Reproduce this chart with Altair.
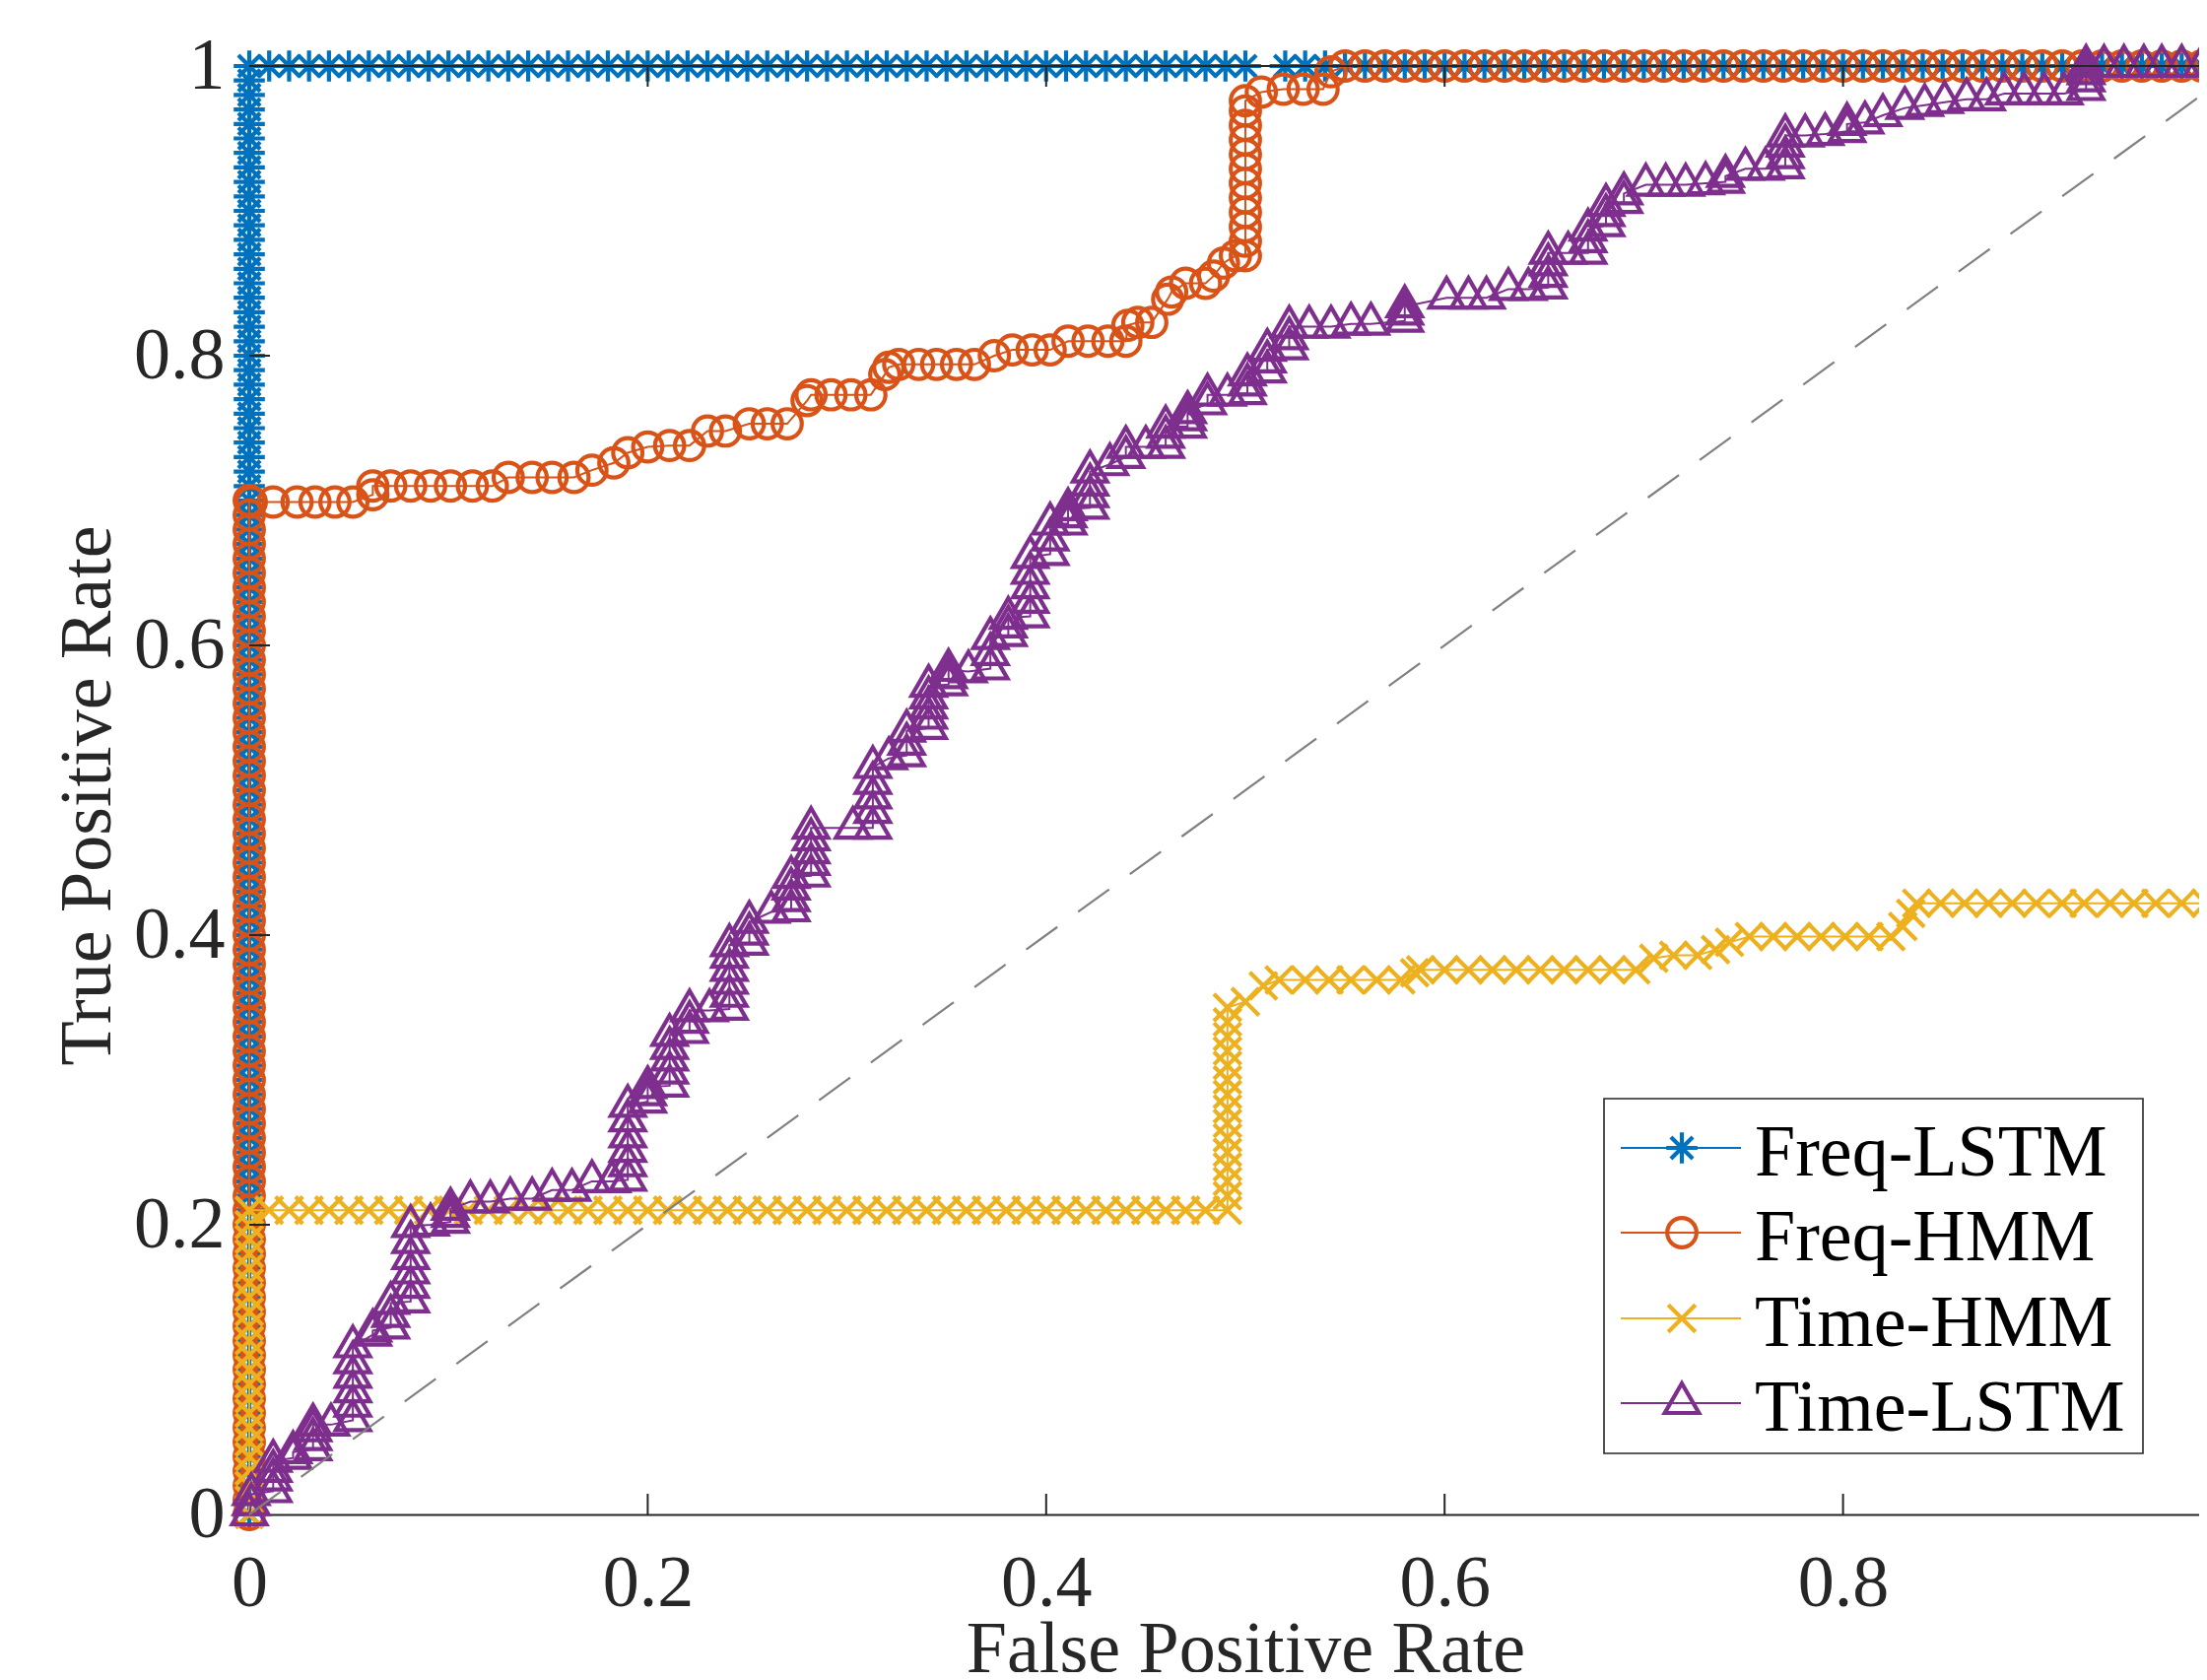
import altair as alt
import pandas as pd

# ---------------- data ----------------
SERIES = ["Freq-LSTM", "Freq-HMM", "Time-HMM", "Time-LSTM"]
COLORS = ["#0072BD", "#D95319", "#EDB120", "#7E2F8E"]

# Freq-LSTM: points at FPR = 0, then points at TPR = 1
freq_lstm_col_tpr = [
    0.00, 0.01, 0.02, 0.03, 0.04, 0.05, 0.06, 0.07, 0.08, 0.09,
    0.10, 0.11, 0.12, 0.13, 0.14, 0.15, 0.16, 0.17, 0.18, 0.19,
    0.20, 0.21, 0.22, 0.23, 0.24, 0.25, 0.26, 0.27, 0.28, 0.29,
    0.30, 0.31, 0.32, 0.33, 0.34, 0.35, 0.36, 0.37, 0.38, 0.39,
    0.40, 0.41, 0.42, 0.43, 0.44, 0.45, 0.46, 0.47, 0.48, 0.49,
    0.50, 0.51, 0.52, 0.53, 0.54, 0.55, 0.56, 0.57, 0.58, 0.59,
    0.60, 0.61, 0.62, 0.63, 0.64, 0.65, 0.66, 0.67, 0.68, 0.69,
    0.70, 0.71, 0.72, 0.73, 0.74, 0.75, 0.76, 0.77, 0.78, 0.79,
    0.80, 0.81, 0.82, 0.83, 0.84, 0.85, 0.86, 0.87, 0.88, 0.89,
    0.90, 0.91, 0.92, 0.93, 0.94, 0.95, 0.96, 0.97, 0.98, 0.99, 1.00]
freq_lstm_top_fpr = [
    0.01, 0.02, 0.03, 0.04, 0.05, 0.06, 0.07, 0.08, 0.09, 0.10,
    0.11, 0.12, 0.13, 0.14, 0.15, 0.16, 0.17, 0.18, 0.19, 0.20,
    0.21, 0.22, 0.23, 0.24, 0.25, 0.26, 0.27, 0.28, 0.29, 0.30,
    0.31, 0.32, 0.33, 0.34, 0.35, 0.36, 0.37, 0.38, 0.39, 0.40,
    0.41, 0.42, 0.43, 0.44, 0.45, 0.46, 0.47, 0.48, 0.49, 0.50,
    0.52, 0.53, 0.54, 0.55, 0.56, 0.57, 0.58, 0.59, 0.60,
    0.61, 0.62, 0.63, 0.64, 0.65, 0.66, 0.67, 0.68, 0.69, 0.70,
    0.71, 0.72, 0.73, 0.74, 0.75, 0.76, 0.77, 0.78, 0.79, 0.80,
    0.81, 0.82, 0.83, 0.84, 0.85, 0.86, 0.87, 0.88, 0.89, 0.90,
    0.91, 0.92, 0.93, 0.94, 0.95, 0.96, 0.97, 0.98, 0.99, 1.00]

# Freq-HMM
freq_hmm_col_tpr = [
    0.00, 0.01, 0.02, 0.03, 0.04, 0.05, 0.06, 0.07, 0.08, 0.09,
    0.10, 0.11, 0.12, 0.13, 0.14, 0.15, 0.16, 0.17, 0.18, 0.19,
    0.20, 0.21, 0.22, 0.23, 0.24, 0.25, 0.26, 0.27, 0.28, 0.29,
    0.30, 0.31, 0.32, 0.33, 0.34, 0.35, 0.36, 0.37, 0.38, 0.39,
    0.40, 0.41, 0.42, 0.43, 0.44, 0.45, 0.46, 0.47, 0.48, 0.49,
    0.50, 0.51, 0.52, 0.53, 0.54, 0.55, 0.56, 0.57, 0.58, 0.59,
    0.60, 0.61, 0.62, 0.63, 0.64, 0.65, 0.66, 0.67, 0.68, 0.69]
freq_hmm_mid = [
    (0.000, 0.700), (0.001, 0.699), (0.012, 0.699), (0.024, 0.699), (0.033, 0.699),
    (0.043, 0.699), (0.052, 0.699), (0.062, 0.704), (0.062, 0.710), (0.071, 0.710),
    (0.081, 0.710), (0.091, 0.710), (0.101, 0.710), (0.112, 0.710), (0.122, 0.710),
    (0.130, 0.716), (0.142, 0.716), (0.152, 0.716), (0.163, 0.716), (0.172, 0.721),
    (0.183, 0.726), (0.190, 0.733), (0.200, 0.737), (0.211, 0.738), (0.221, 0.738),
    (0.230, 0.748), (0.239, 0.748), (0.251, 0.753), (0.260, 0.753), (0.270, 0.753),
    (0.280, 0.769), (0.282, 0.773), (0.292, 0.773), (0.302, 0.773), (0.312, 0.773),
    (0.319, 0.787), (0.321, 0.792), (0.326, 0.794), (0.336, 0.794), (0.345, 0.794),
    (0.355, 0.794), (0.364, 0.794), (0.374, 0.800), (0.383, 0.804), (0.393, 0.804),
    (0.402, 0.804), (0.411, 0.810), (0.421, 0.810), (0.431, 0.810), (0.440, 0.810),
    (0.441, 0.821), (0.446, 0.823), (0.453, 0.823), (0.461, 0.839), (0.463, 0.844),
    (0.470, 0.850), (0.480, 0.850), (0.484, 0.855), (0.489, 0.864), (0.495, 0.869),
    (0.500, 0.869), (0.500, 0.879), (0.500, 0.889), (0.500, 0.899), (0.500, 0.909),
    (0.500, 0.919), (0.500, 0.929), (0.500, 0.939), (0.500, 0.949), (0.500, 0.959),
    (0.500, 0.969), (0.500, 0.976), (0.508, 0.982), (0.519, 0.984), (0.529, 0.984),
    (0.539, 0.984), (0.543, 0.996)]
freq_hmm_top_fpr = [
    0.55, 0.56, 0.57, 0.58, 0.59, 0.60,
    0.61, 0.62, 0.63, 0.64, 0.65, 0.66, 0.67, 0.68, 0.69, 0.70,
    0.71, 0.72, 0.73, 0.74, 0.75, 0.76, 0.77, 0.78, 0.79, 0.80,
    0.81, 0.82, 0.83, 0.84, 0.85, 0.86, 0.87, 0.88, 0.89, 0.90,
    0.91, 0.92, 0.93, 0.94, 0.95, 0.96, 0.97, 0.98, 0.99, 1.00]

# Time-HMM
time_hmm_col_tpr = [
    0.00, 0.01, 0.02, 0.03, 0.04, 0.05, 0.06, 0.07, 0.08, 0.09,
    0.10, 0.11, 0.12, 0.13, 0.14, 0.15, 0.16, 0.17, 0.18, 0.19,
    0.20, 0.21]
time_hmm_flat_tpr = 0.21
time_hmm_flat_fpr = [
    0.01, 0.02, 0.03, 0.04, 0.05, 0.06, 0.07, 0.08, 0.09, 0.10,
    0.11, 0.12, 0.13, 0.14, 0.15, 0.16, 0.17, 0.18, 0.19, 0.20,
    0.21, 0.22, 0.23, 0.24, 0.25, 0.26, 0.27, 0.28, 0.29, 0.30,
    0.31, 0.32, 0.33, 0.34, 0.35, 0.36, 0.37, 0.38, 0.39, 0.40,
    0.41, 0.42, 0.43, 0.44, 0.45, 0.46, 0.47, 0.48]
time_hmm_mid = [
    (0.491, 0.21), (0.491, 0.22), (0.491, 0.23), (0.491, 0.24), (0.491, 0.25),
    (0.491, 0.26), (0.491, 0.27), (0.491, 0.28), (0.491, 0.29), (0.491, 0.30),
    (0.491, 0.31), (0.491, 0.32), (0.491, 0.33), (0.491, 0.34), (0.491, 0.35),
    (0.500, 0.354), (0.509, 0.365), (0.517, 0.369), (0.530, 0.369), (0.542, 0.369),
    (0.553, 0.369), (0.566, 0.369), (0.578, 0.369), (0.585, 0.374), (0.588, 0.376),
    (0.600, 0.376), (0.612, 0.376), (0.624, 0.376), (0.636, 0.376), (0.648, 0.376),
    (0.660, 0.376), (0.672, 0.376), (0.684, 0.376), (0.696, 0.376), (0.705, 0.384),
    (0.715, 0.386), (0.727, 0.386), (0.736, 0.390), (0.743, 0.395), (0.753, 0.399),
    (0.765, 0.399), (0.777, 0.399), (0.789, 0.399), (0.801, 0.399), (0.813, 0.399),
    (0.824, 0.399), (0.830, 0.406), (0.834, 0.415), (0.837, 0.422), (0.849, 0.422),
    (0.861, 0.422), (0.873, 0.422), (0.885, 0.422), (0.897, 0.422), (0.910, 0.422),
    (0.921, 0.422), (0.934, 0.422), (0.946, 0.422), (0.957, 0.422), (0.970, 0.422),
    (0.982, 0.422), (0.994, 0.422), (1.000, 0.422)]

# Time-LSTM
time_lstm = [
    (0.000, 0.000), (0.001, 0.007), (0.001, 0.014),
    (0.012, 0.016), (0.012, 0.024), (0.012, 0.030), (0.012, 0.037),
    (0.022, 0.039), (0.022, 0.043),
    (0.032, 0.045), (0.032, 0.052), (0.032, 0.058), (0.032, 0.062),
    (0.041, 0.062),
    (0.052, 0.065), (0.052, 0.075), (0.052, 0.085), (0.052, 0.095), (0.052, 0.105), (0.052, 0.116),
    (0.062, 0.124), (0.062, 0.127),
    (0.071, 0.129), (0.071, 0.137), (0.071, 0.146),
    (0.081, 0.147), (0.081, 0.157), (0.081, 0.167), (0.081, 0.177), (0.081, 0.188), (0.081, 0.199),
    (0.091, 0.200),
    (0.101, 0.202), (0.101, 0.206), (0.101, 0.211),
    (0.111, 0.216), (0.121, 0.216), (0.131, 0.218), (0.142, 0.218), (0.152, 0.224),
    (0.162, 0.224), (0.172, 0.230), (0.182, 0.230),
    (0.190, 0.231), (0.190, 0.241), (0.190, 0.251), (0.190, 0.261), (0.190, 0.272), (0.190, 0.282),
    (0.200, 0.285), (0.200, 0.290), (0.200, 0.295),
    (0.211, 0.296), (0.211, 0.305), (0.211, 0.314), (0.211, 0.322), (0.211, 0.331),
    (0.221, 0.333), (0.221, 0.340), (0.221, 0.348),
    (0.231, 0.348),
    (0.241, 0.349), (0.241, 0.358), (0.241, 0.367), (0.241, 0.376), (0.241, 0.385), (0.241, 0.393),
    (0.251, 0.394), (0.251, 0.401), (0.251, 0.409),
    (0.262, 0.416),
    (0.272, 0.417), (0.272, 0.424), (0.272, 0.432), (0.272, 0.440),
    (0.282, 0.441), (0.282, 0.449), (0.282, 0.457), (0.282, 0.466), (0.282, 0.474),
    (0.303, 0.474),
    (0.313, 0.474), (0.313, 0.485), (0.313, 0.495), (0.313, 0.505), (0.313, 0.516),
    (0.321, 0.522),
    (0.330, 0.524), (0.330, 0.532), (0.330, 0.541),
    (0.341, 0.543), (0.341, 0.550), (0.341, 0.557), (0.341, 0.564), (0.341, 0.572),
    (0.351, 0.573), (0.351, 0.578), (0.351, 0.583),
    (0.361, 0.582),
    (0.372, 0.584), (0.372, 0.594), (0.372, 0.605),
    (0.381, 0.607), (0.381, 0.613), (0.381, 0.619),
    (0.392, 0.620), (0.392, 0.630), (0.392, 0.640), (0.392, 0.650), (0.392, 0.661),
    (0.402, 0.663), (0.402, 0.673), (0.402, 0.684),
    (0.411, 0.684), (0.411, 0.689), (0.411, 0.694),
    (0.422, 0.695), (0.422, 0.703), (0.422, 0.711), (0.422, 0.720),
    (0.432, 0.725),
    (0.440, 0.730), (0.440, 0.737),
    (0.450, 0.737),
    (0.460, 0.737), (0.460, 0.744), (0.460, 0.751),
    (0.471, 0.751), (0.471, 0.756), (0.471, 0.761),
    (0.481, 0.767), (0.481, 0.773),
    (0.491, 0.773),
    (0.501, 0.774), (0.501, 0.780), (0.501, 0.787),
    (0.511, 0.789), (0.511, 0.796), (0.511, 0.804),
    (0.522, 0.805), (0.522, 0.812), (0.522, 0.820),
    (0.532, 0.820), (0.543, 0.820), (0.553, 0.822), (0.563, 0.822),
    (0.580, 0.824), (0.580, 0.829), (0.580, 0.834),
    (0.601, 0.840), (0.612, 0.840), (0.621, 0.840), (0.632, 0.846), (0.642, 0.846),
    (0.652, 0.847), (0.652, 0.855), (0.652, 0.863), (0.652, 0.871),
    (0.662, 0.871),
    (0.672, 0.871), (0.672, 0.879), (0.672, 0.887),
    (0.681, 0.890), (0.681, 0.897), (0.681, 0.904),
    (0.690, 0.906), (0.690, 0.912),
    (0.701, 0.918), (0.711, 0.918), (0.721, 0.918), (0.731, 0.919),
    (0.741, 0.920), (0.741, 0.924),
    (0.751, 0.929), (0.761, 0.929),
    (0.771, 0.930), (0.771, 0.937), (0.771, 0.945), (0.771, 0.952),
    (0.781, 0.952), (0.791, 0.953),
    (0.802, 0.955), (0.802, 0.960),
    (0.811, 0.961), (0.820, 0.966), (0.831, 0.971), (0.841, 0.973), (0.851, 0.975),
    (0.862, 0.977), (0.872, 0.977),
    (0.881, 0.981), (0.891, 0.981), (0.901, 0.981), (0.911, 0.981),
    (0.922, 0.984), (0.922, 0.990), (0.922, 0.995), (0.922, 1.000),
    (0.931, 1.000), (0.941, 1.000), (0.951, 1.000), (0.960, 1.000), (0.970, 1.000),
    (0.980, 1.000), (0.990, 1.000), (1.000, 1.000)]

chance_line = [(0.0, 0.0), (1.0, 1.0)]
x_tick_values = [0, 0.2, 0.4, 0.6, 0.8]
y_tick_values = [0, 0.2, 0.4, 0.6, 0.8, 1]
inner_tick_values = [0.2, 0.4, 0.6, 0.8]

# ---------------- build tables ----------------
def frame(points):
    return pd.DataFrame({
        "fpr": [p[0] for p in points],
        "tpr": [p[1] for p in points],
        "i": list(range(len(points))),
    })

curves = [
    frame([(0.0, t) for t in freq_lstm_col_tpr] + [(f, 1.0) for f in freq_lstm_top_fpr]),
    frame([(0.0, t) for t in freq_hmm_col_tpr] + freq_hmm_mid + [(f, 1.0) for f in freq_hmm_top_fpr]),
    frame([(0.0, t) for t in time_hmm_col_tpr] + [(f, time_hmm_flat_tpr) for f in time_hmm_flat_fpr] + time_hmm_mid),
    frame(time_lstm),
]

# ---------------- styling ----------------
FONT = "Liberation Serif"
AXC = "#262626"
W, H = 1979, 1470
XMAX = W / 2022.0  # reference is cut off just before FPR = 1

STAR = "M0,-1L0,1M-1,0L1,0M-0.7,-0.7L0.7,0.7M-0.7,0.7L0.7,-0.7"
XMARK = "M-1,-1L1,1M-1,1L1,-1"
TRI = "M0,-1L0.866,0.5L-0.866,0.5Z"
SHAPES = [STAR, "circle", XMARK, TRI]
SIZES = [1000, 880, 760, 1600]
MSW = 4.2

xscale = alt.Scale(domain=[0, XMAX], nice=False, zero=False)
yscale = alt.Scale(domain=[0, 1], nice=False, zero=False)

xaxis = alt.Axis(values=x_tick_values, format="~g", title="False Positive Rate",
                 ticks=False, grid=False, domainColor=AXC, domainWidth=2,
                 labelFont=FONT, labelFontSize=74, labelColor=AXC, labelPadding=34,
                 labelFlush=False, labelOverlap=False,
                 titleFont=FONT, titleFontSize=74, titleFontWeight="normal", titleColor=AXC,
                 titleX=1011, titleY=159, titleAlign="center", titleBaseline="alphabetic")
yaxis = alt.Axis(values=y_tick_values, format="~g", title="True Positive Rate",
                 ticks=False, grid=False, domainColor=AXC, domainWidth=2,
                 labelFont=FONT, labelFontSize=74, labelColor=AXC, labelPadding=25,
                 labelFlush=False, labelOverlap=False, labelBaseline="middle",
                 titleFont=FONT, titleFontSize=74, titleFontWeight="normal", titleColor=AXC,
                 titleX=-142, titleY=740, titleAngle=270, titleAlign="center",
                 titleBaseline="alphabetic")

X = alt.X("fpr:Q", scale=xscale, axis=xaxis)
Y = alt.Y("tpr:Q", scale=yscale, axis=yaxis)

layers = []
for k in range(4):
    df = curves[k]
    layers.append(alt.Chart(df).mark_line(color=COLORS[k], strokeWidth=2).encode(
        x=X, y=Y, order=alt.Order("i:Q")))
    layers.append(alt.Chart(df).mark_point(shape=SHAPES[k], size=SIZES[k], filled=False,
                                           strokeWidth=MSW, color=COLORS[k], opacity=1).encode(
        x=X, y=Y))

layers.append(alt.Chart(frame(chance_line)).mark_line(
    color="#808080", strokeWidth=2.2, strokeDash=[39, 26]).encode(x=X, y=Y, order=alt.Order("i:Q")))

# box: top spine and inward ticks
spine = pd.DataFrame({"a": [0.0], "b": [1.0], "t": [1.0]})
layers.append(alt.Chart(spine).mark_rule(color=AXC, strokeWidth=2).encode(
    x=alt.X("a:Q", scale=xscale, axis=xaxis), x2="b:Q",
    y=alt.Y("t:Q", scale=yscale, axis=yaxis)))
tk = pd.DataFrame({"v": inner_tick_values})
layers.append(alt.Chart(tk).mark_rule(color=AXC, strokeWidth=2).encode(
    x=alt.X("v:Q", scale=xscale, axis=xaxis), y=alt.value(H), y2=alt.value(H - 21)))
layers.append(alt.Chart(tk).mark_rule(color=AXC, strokeWidth=2).encode(
    x=alt.X("v:Q", scale=xscale, axis=xaxis), y=alt.value(0), y2=alt.value(21)))
layers.append(alt.Chart(tk).mark_rule(color=AXC, strokeWidth=2).encode(
    y=alt.Y("v:Q", scale=yscale, axis=yaxis), x=alt.value(0), x2=alt.value(21)))

# legend (built by hand: line + marker + label)
one = alt.Data(values=[{}])
LB = dict(x0=1375, x1=1922, y0=1048, y1=1408)
layers.append(alt.Chart(one).mark_rect(fill="white", stroke=AXC, strokeWidth=1.6).encode(
    x=alt.value(LB["x0"]), x2=alt.value(LB["x1"]), y=alt.value(LB["y0"]), y2=alt.value(LB["y1"])))
row_y = [1098, 1184, 1271, 1357]
for k in range(4):
    ry = row_y[k]
    layers.append(alt.Chart(one).mark_rule(color=COLORS[k], strokeWidth=2).encode(
        x=alt.value(1392), x2=alt.value(1514), y=alt.value(ry)))
    layers.append(alt.Chart(one).mark_point(shape=SHAPES[k], size=SIZES[k], filled=False,
                                            strokeWidth=MSW, color=COLORS[k], opacity=1).encode(
        x=alt.value(1454), y=alt.value(ry)))
    layers.append(alt.Chart(one).mark_text(text=SERIES[k], font=FONT, fontSize=74, align="left",
                                           baseline="alphabetic", color="black").encode(
        x=alt.value(1528), y=alt.value(ry + 28)))

chart = alt.layer(*layers).properties(
    width=W, height=H,
    padding={"left": 245, "top": 59, "right": 0, "bottom": 160},
    autosize=alt.AutoSizeParams(type="none"),
    background="white",
).configure_view(stroke="transparent")

chart.save("out.html", embed_options={"renderer": "svg", "actions": False})
